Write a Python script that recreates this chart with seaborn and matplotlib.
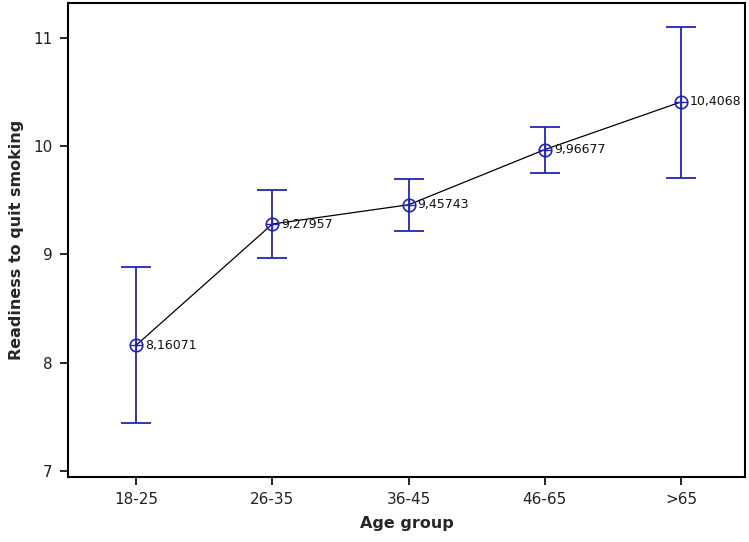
import matplotlib
matplotlib.use("Agg")
import matplotlib.pyplot as plt
import seaborn as sns
import pandas as pd
import numpy as np

categories = ["18-25", "26-35", "36-45", "46-65", ">65"]
means = [8.16071, 9.27957, 9.45743, 9.96677, 10.4068]
ci_low = [7.445, 8.969, 9.218, 9.753, 9.707]
ci_high = [8.885, 9.597, 9.698, 10.178, 11.10]
labels = ["8,16071", "9,27957", "9,45743", "9,96677", "10,4068"]

sns.set_theme(style="white")
plt.rcParams['font.family'] = ['DejaVu Sans']

blue = "#2424b4"
df = pd.DataFrame({"Age group": categories, "mean": means,
                   "low": ci_low, "high": ci_high, "label": labels})
df["pos"] = np.arange(len(df))

fig = plt.figure(figsize=(7.49, 5.42), dpi=100)
ax = fig.add_axes([0.0908, 0.12, 0.904, 0.8745])

sns.lineplot(data=df, x="pos", y="mean", ax=ax, color="black", linewidth=0.9,
             sort=False, zorder=2)

err_lo = df["mean"] - df["low"]
err_hi = df["high"] - df["mean"]
ax.errorbar(df["pos"], df["mean"], yerr=[err_lo, err_hi], fmt="none",
            ecolor=blue, elinewidth=1.3, capsize=11, capthick=1.3, zorder=3)
ax.plot(df["pos"], df["mean"], linestyle="none", marker="o", markersize=9,
        markerfacecolor="none", markeredgecolor=blue, markeredgewidth=1.2, zorder=4)
ax.plot(df["pos"], df["mean"], linestyle="none", marker="+", markersize=9,
        markeredgecolor=blue, markeredgewidth=1.0, zorder=4)

for p, m, t in zip(df["pos"], df["mean"], df["label"]):
    ax.annotate(t, (p, m), xytext=(6.5, 0), textcoords="offset points",
                va="center", ha="left", fontsize=9, color="#111111")

ax.set_xlim(-0.5, 4.47)
ax.set_ylim(6.945, 11.32)
ax.set_xticks(df["pos"])
ax.set_xticklabels(categories)
ax.set_yticks([7, 8, 9, 10, 11])
ax.tick_params(axis="both", direction="out", length=6, width=1.2, color="black",
               labelsize=11, labelcolor="#222222", pad=5, left=True, bottom=True)
ax.set_xlabel("Age group", fontsize=11.5, fontweight="bold", labelpad=6)
ax.set_ylabel("Readiness to quit smoking", fontsize=11.5, fontweight="bold", labelpad=7)
for s in ax.spines.values():
    s.set_color("black")
    s.set_linewidth(1.5)
ax.grid(False)

fig.savefig("out.png", dpi=100)
